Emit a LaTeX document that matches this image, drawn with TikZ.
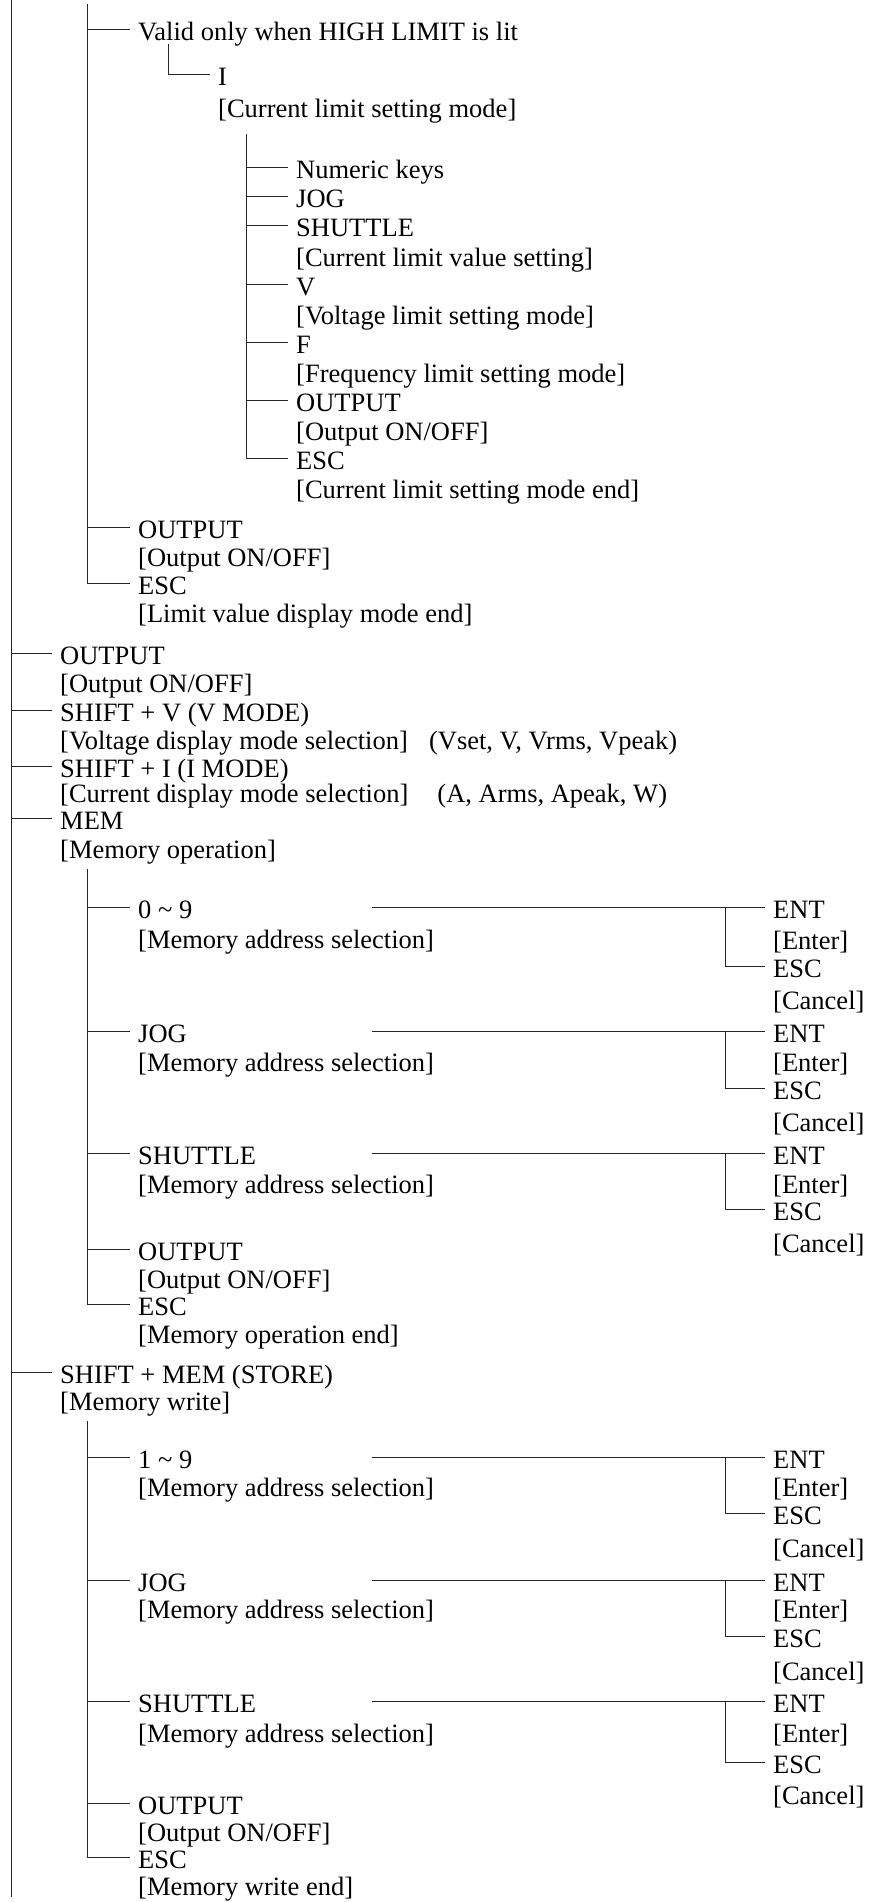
\documentclass[tikz,border=0pt]{standalone}
\usepackage{fontspec}
\setmainfont{Liberation Serif}
\usepackage{tikz}

\begin{document}
\begin{tikzpicture}[x=1pt, y=-1pt,
  lbl/.style={anchor=west, inner xsep=8pt, inner ysep=0pt,
    font=\fontsize{26.5}{28}\selectfont, text height=22pt, text depth=0pt},
  wire/.style={draw=black!85, line width=1pt}
]
  \useasboundingbox (0,0) rectangle (870,1902);
  % trunks
  \coordinate (root) at (11,0);
  \coordinate (rootend) at (11,1897);
  \coordinate (lvtop) at (87,4);
  \coordinate (itop) at (168,44);
  \coordinate (cltop) at (246,134);
  \coordinate (memtop) at (87,869);
  \coordinate (sttop) at (87,1421);
  \coordinate (lx) at (372,0);
  \coordinate (fx) at (725,0);

  % limit value display
  \node[lbl] (valid) at (130,30) {Valid only when HIGH LIMIT is lit};
  \node[lbl] (ikey) at (210,75) {I};
  \node[lbl] (imode) at (210,107) {[Current limit setting mode]};
  \node[lbl] (numk) at (288,168) {Numeric keys};
  \node[lbl] (cjog) at (288,197) {JOG};
  \node[lbl] (cshut) at (288,226) {SHUTTLE};
  \node[lbl] (cshutd) at (288,255) {[Current limit value setting]};
  \node[lbl] (cv) at (288,284) {V};
  \node[lbl] (cvd) at (288,313) {[Voltage limit setting mode]};
  \node[lbl] (cf) at (288,342) {F};
  \node[lbl] (cfd) at (288,371) {[Frequency limit setting mode]};
  \node[lbl] (cout) at (288,400) {OUTPUT};
  \node[lbl] (coutd) at (288,429) {[Output ON/OFF]};
  \node[lbl] (cesc) at (288,458) {ESC};
  \node[lbl] (cescd) at (288,487) {[Current limit setting mode end]};
  \node[lbl] (lout) at (130,527) {OUTPUT};
  \node[lbl] (loutd) at (130,555) {[Output ON/OFF]};
  \node[lbl] (lesc) at (130,583) {ESC};
  \node[lbl] (lescd) at (130,611) {[Limit value display mode end]};

  % top level
  \node[lbl] (out) at (52,653) {OUTPUT};
  \node[lbl] (outd) at (52,681) {[Output ON/OFF]};
  \node[lbl] (shv) at (52,710) {SHIFT + V (V MODE)};
  \node[lbl] (shvd) at (52,738) {[Voltage display mode selection]\hspace{0.8em}(Vset, V, Vrms, Vpeak)};
  \node[lbl] (shi) at (52,766) {SHIFT + I (I MODE)};
  \node[lbl] (shid) at (52,791) {[Current display mode selection]\hspace{1.1em}(A, Arms, Apeak, W)};
  \node[lbl] (mem) at (52,818) {MEM};
  \node[lbl] (memd) at (52,847) {[Memory operation]};
  \node[lbl] (store) at (52,1372) {SHIFT + MEM (STORE)};
  \node[lbl] (stored) at (52,1399) {[Memory write]};

  % memory operation
  \node[lbl] (m09) at (130,907) {0 \textasciitilde{} 9};
  \node[lbl] (m09d) at (130,937) {[Memory address selection]};
  \node[lbl] (ment1) at (765,907) {ENT};
  \node[lbl] (menter1) at (765,938) {[Enter]};
  \node[lbl] (mesc1) at (765,966) {ESC};
  \node[lbl] (mcan1) at (765,998) {[Cancel]};
  \node[lbl] (mjog) at (130,1031) {JOG};
  \node[lbl] (mjogd) at (130,1060) {[Memory address selection]};
  \node[lbl] (ment2) at (765,1031) {ENT};
  \node[lbl] (menter2) at (765,1060) {[Enter]};
  \node[lbl] (mesc2) at (765,1088) {ESC};
  \node[lbl] (mcan2) at (765,1120) {[Cancel]};
  \node[lbl] (mshut) at (130,1153) {SHUTTLE};
  \node[lbl] (mshutd) at (130,1182) {[Memory address selection]};
  \node[lbl] (ment3) at (765,1153) {ENT};
  \node[lbl] (menter3) at (765,1182) {[Enter]};
  \node[lbl] (mesc3) at (765,1209) {ESC};
  \node[lbl] (mcan3) at (765,1241) {[Cancel]};
  \node[lbl] (mout) at (130,1249) {OUTPUT};
  \node[lbl] (moutd) at (130,1277) {[Output ON/OFF]};
  \node[lbl] (mesc) at (130,1304) {ESC};
  \node[lbl] (mescd) at (130,1332) {[Memory operation end]};

  % memory write
  \node[lbl] (s19) at (130,1457) {1 \textasciitilde{} 9};
  \node[lbl] (s19d) at (130,1485) {[Memory address selection]};
  \node[lbl] (sent1) at (765,1457) {ENT};
  \node[lbl] (senter1) at (765,1485) {[Enter]};
  \node[lbl] (sesc1) at (765,1513) {ESC};
  \node[lbl] (scan1) at (765,1546) {[Cancel]};
  \node[lbl] (sjog) at (130,1580) {JOG};
  \node[lbl] (sjogd) at (130,1607) {[Memory address selection]};
  \node[lbl] (sent2) at (765,1580) {ENT};
  \node[lbl] (senter2) at (765,1607) {[Enter]};
  \node[lbl] (sesc2) at (765,1636) {ESC};
  \node[lbl] (scan2) at (765,1669) {[Cancel]};
  \node[lbl] (sshut) at (130,1701) {SHUTTLE};
  \node[lbl] (sshutd) at (130,1731) {[Memory address selection]};
  \node[lbl] (sent3) at (765,1701) {ENT};
  \node[lbl] (senter3) at (765,1731) {[Enter]};
  \node[lbl] (sesc3) at (765,1762) {ESC};
  \node[lbl] (scan3) at (765,1793) {[Cancel]};
  \node[lbl] (sout) at (130,1803) {OUTPUT};
  \node[lbl] (soutd) at (130,1830) {[Output ON/OFF]};
  \node[lbl] (sesc) at (130,1857) {ESC};
  \node[lbl] (sescd) at (130,1884) {[Memory write end]};

  % main trunk
  \draw[wire] (root) -- (rootend);
  \draw[wire] (root |- out.west) -- (out.west);
  \draw[wire] (root |- shv.west) -- (shv.west);
  \draw[wire] (root |- shi.west) -- (shi.west);
  \draw[wire] (root |- mem.west) -- (mem.west);
  \draw[wire] (root |- store.west) -- (store.west);

  % limit branches
  \draw[wire] (lvtop) |- (lesc.west);
  \draw[wire] (lvtop |- valid.west) -- (valid.west);
  \draw[wire] (lvtop |- lout.west) -- (lout.west);
  \draw[wire] (itop) |- (ikey.west);
  \draw[wire] (cltop) |- (cesc.west);
  \draw[wire] (cltop |- numk.west) -- (numk.west);
  \draw[wire] (cltop |- cjog.west) -- (cjog.west);
  \draw[wire] (cltop |- cshut.west) -- (cshut.west);
  \draw[wire] (cltop |- cv.west) -- (cv.west);
  \draw[wire] (cltop |- cf.west) -- (cf.west);
  \draw[wire] (cltop |- cout.west) -- (cout.west);

  % memory operation branches
  \draw[wire] (memtop) |- (mesc.west);
  \draw[wire] (memtop |- m09.west) -- (m09.west);
  \draw[wire] (memtop |- mjog.west) -- (mjog.west);
  \draw[wire] (memtop |- mshut.west) -- (mshut.west);
  \draw[wire] (memtop |- mout.west) -- (mout.west);
  \draw[wire] (lx |- m09.west) -- (ment1.west);
  \draw[wire] (fx |- ment1.west) |- (mesc1.west);
  \draw[wire] (lx |- mjog.west) -- (ment2.west);
  \draw[wire] (fx |- ment2.west) |- (mesc2.west);
  \draw[wire] (lx |- mshut.west) -- (ment3.west);
  \draw[wire] (fx |- ment3.west) |- (mesc3.west);

  % memory write branches
  \draw[wire] (sttop) |- (sesc.west);
  \draw[wire] (sttop |- s19.west) -- (s19.west);
  \draw[wire] (sttop |- sjog.west) -- (sjog.west);
  \draw[wire] (sttop |- sshut.west) -- (sshut.west);
  \draw[wire] (sttop |- sout.west) -- (sout.west);
  \draw[wire] (lx |- s19.west) -- (sent1.west);
  \draw[wire] (fx |- sent1.west) |- (sesc1.west);
  \draw[wire] (lx |- sjog.west) -- (sent2.west);
  \draw[wire] (fx |- sent2.west) |- (sesc2.west);
  \draw[wire] (lx |- sshut.west) -- (sent3.west);
  \draw[wire] (fx |- sent3.west) |- (sesc3.west);
\end{tikzpicture}
\end{document}
